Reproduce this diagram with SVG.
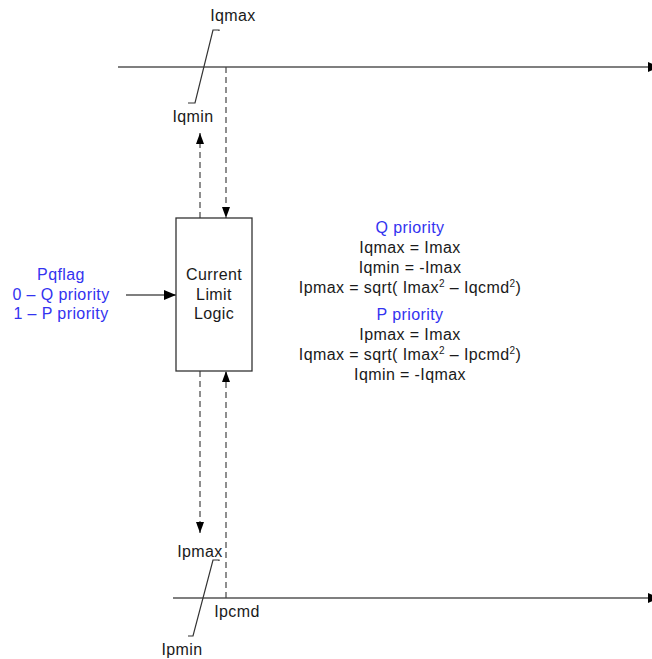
<svg xmlns="http://www.w3.org/2000/svg" width="652" height="659" viewBox="0 0 652 659">
<style>
text{font-family:"Liberation Sans",Arial,sans-serif;font-size:16px;fill:#1a1a1a;text-anchor:middle;letter-spacing:0.4px}
.blue{fill:#3333f0}
.axis{stroke:#555;stroke-width:1.5;fill:none}
.dash{stroke:#444;stroke-width:1.2;stroke-dasharray:6 4;fill:none}
.lim{stroke:#333;stroke-width:1.2;fill:none}
</style>
<defs>
<marker id="ah" markerWidth="12" markerHeight="10" refX="12" refY="5" orient="auto" markerUnits="userSpaceOnUse"><path d="M0,0 L12,5 L0,10 Z" fill="#000"/></marker>
<marker id="ahs" markerWidth="11" markerHeight="8" refX="11" refY="4" orient="auto" markerUnits="userSpaceOnUse"><path d="M0,0 L11,4 L0,8 Z" fill="#000"/></marker>
</defs>
<g id="connectors">
<line class="axis" x1="118" y1="67" x2="660" y2="67" marker-end="url(#ah)"/>
<line class="axis" x1="173" y1="598" x2="660" y2="598" marker-end="url(#ah)"/>
<line class="dash" x1="200" y1="218" x2="200" y2="133" marker-end="url(#ahs)"/>
<line class="dash" x1="226" y1="67" x2="226" y2="218" marker-end="url(#ahs)"/>
<line class="dash" x1="200" y1="371" x2="200" y2="533" marker-end="url(#ahs)"/>
<line class="dash" x1="226" y1="598" x2="226" y2="371" marker-end="url(#ahs)"/>
<line x1="126" y1="295" x2="176" y2="295" stroke="#000" stroke-width="1.2" marker-end="url(#ah)"/>
</g>
<g id="limiter-q">
<path class="lim" d="M219,31 L219,30 L213,30 L195,103 L188,103"/>
<text x="233" y="21">Iqmax</text>
<text x="193" y="122">Iqmin</text>
</g>
<g id="limiter-p">
<path class="lim" d="M219,561 L219,560 L213,560 L193,636 L188,636"/>
<text x="200" y="557">Ipmax</text>
<text x="237" y="617">Ipcmd</text>
<text x="182" y="655">Ipmin</text>
</g>
<g id="logic">
<rect x="176" y="218" width="76" height="153" fill="#fff" stroke="#333" stroke-width="1.3"/>
<text x="214" y="280">Current</text>
<text x="214" y="300">Limit</text>
<text x="214" y="319">Logic</text>
</g>
<g id="pqflag">
<text class="blue" x="61" y="280">Pqflag</text>
<text class="blue" x="61" y="300">0 – Q priority</text>
<text class="blue" x="61" y="319">1 – P priority</text>
</g>
<g id="equations">
<text class="blue" x="410" y="233">Q priority</text>
<text x="410" y="253">Iqmax = Imax</text>
<text x="410" y="273">Iqmin = -Imax</text>
<text x="410" y="293">Ipmax = sqrt( Imax<tspan font-size="10" dy="-6">2</tspan><tspan dy="6"> – Iqcmd</tspan><tspan font-size="10" dy="-6">2</tspan><tspan dy="6">)</tspan></text>
<text class="blue" x="410" y="320">P priority</text>
<text x="410" y="340">Ipmax = Imax</text>
<text x="410" y="360">Iqmax = sqrt( Imax<tspan font-size="10" dy="-6">2</tspan><tspan dy="6"> – Ipcmd</tspan><tspan font-size="10" dy="-6">2</tspan><tspan dy="6">)</tspan></text>
<text x="410" y="380">Iqmin = -Iqmax</text>
</g>
</svg>
